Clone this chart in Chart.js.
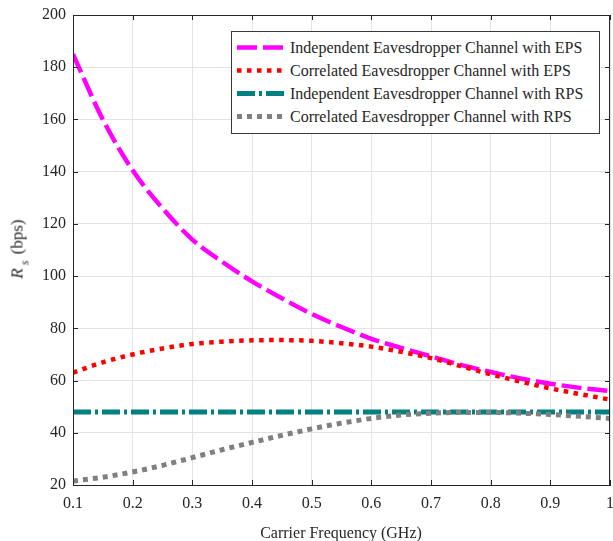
<!DOCTYPE html>
<html>
<head>
<meta charset="utf-8">
<script src="https://cdn.jsdelivr.net/npm/chart.js@4.4.1/dist/chart.umd.min.js"></script>
<style>
  body { margin: 0; background: #fff; }
  #wrap { position: relative; width: 613px; height: 541px; overflow: hidden; font-family: "Liberation Serif", "Times New Roman", serif; color: #262626; }
  #chart { position: absolute; left: 0; top: 0; }
  #ytitle { position: absolute; left: 20px; top: 249px; transform: translate(-50%, -50%) rotate(-90deg); font-size: 17px; white-space: nowrap; }
  #ytitle sub { font-size: 12px; vertical-align: -6px; margin-left: 3px; margin-right: 2px; }
  #xtitle { position: absolute; left: 341px; top: 533px; transform: translate(-50%, -50%); font-size: 16px; white-space: nowrap; }
  #legend { position: absolute; left: 231px; top: 31px; width: 367px; height: 97px; border: 1px solid #3a3a3a; background: #fff; padding-top: 4px; box-sizing: content-box; }
  .row { display: flex; align-items: center; height: 23px; font-size: 16px; white-space: nowrap; }
  .row svg { margin-left: 5px; margin-right: 5px; }
</style>
</head>
<body>
<div id="wrap">
  <canvas id="chart" width="613" height="541"></canvas>
  <div id="ytitle"><i>R</i><sub><i>s</i></sub> (bps)</div>
  <div id="xtitle">Carrier Frequency (GHz)</div>
  <div id="legend"></div>
</div>
<script>
// carrier frequency (GHz)
const freqs = [0.1, 0.15, 0.2, 0.25, 0.3, 0.35, 0.4, 0.45, 0.5, 0.55, 0.6, 0.65, 0.7, 0.75, 0.8, 0.85, 0.9, 0.95, 1.0];

const indepEPS = [185, 160, 140.5, 126, 114, 105.5, 98, 91.5, 85.5, 80.5, 76, 72.5, 69.3, 66, 63.3, 60.8, 58.8, 57.2, 56];
const corrEPS  = [63, 67, 70, 72.3, 74, 74.9, 75.4, 75.5, 75.2, 74.3, 73, 71, 68.6, 65.5, 62.4, 59.6, 57, 54.8, 52.7];
const indepRPS = [48, 48, 48, 48, 48, 48, 48, 48, 48, 48, 48, 48, 48, 48, 48, 48, 48, 48, 48];
const corrRPS  = [21.5, 23, 25, 27.5, 30.5, 33.5, 36.3, 39, 41.5, 43.7, 45.5, 46.8, 47.5, 47.8, 47.8, 47.5, 47, 46.3, 45.5];

const seriesNames = [
    'Independent Eavesdropper Channel with EPS',
    'Correlated Eavesdropper Channel with EPS',
    'Independent Eavesdropper Channel with RPS',
    'Correlated Eavesdropper Channel with RPS'
];

const xTicks = [0.1, 0.2, 0.3, 0.4, 0.5, 0.6, 0.7, 0.8, 0.9, 1];
const yTicks = [20, 40, 60, 80, 100, 120, 140, 160, 180, 200];

const axisColor = '#262626';
const gridColor = '#e3e3e3';

const styles = [
    { color: '#ff00ff', width: 4.5, dash: [20, 6] },
    { color: '#ff0000', width: 4.5, dash: [4.5, 5.5] },
    { color: '#008080', width: 5, dash: [18, 4, 3, 4] },
    { color: '#808080', width: 5, dash: [5, 5] }
];

function toPoints(values) {
    return freqs.map((f, i) => ({ x: f, y: values[i] }));
}

const allSeries = [indepEPS, corrEPS, indepRPS, corrRPS];
const datasets = allSeries.map((vals, i) => ({
    label: seriesNames[i],
    data: toPoints(vals),
    borderColor: styles[i].color,
    borderWidth: styles[i].width,
    borderDash: styles[i].dash,
    borderCapStyle: 'butt',
    pointRadius: 0,
    fill: false,
    cubicInterpolationMode: 'monotone',
    order: 3 - i
}));

// box around the plot + inward tick marks, like MATLAB axes
const boxPlugin = {
    id: 'box',
    afterDraw(chart) {
        const { ctx, chartArea: a, scales } = chart;
        ctx.save();
        ctx.strokeStyle = axisColor;
        ctx.lineWidth = 1;
        ctx.strokeRect(a.left + 0.5, a.top + 0.5, a.right - a.left - 1, a.bottom - a.top);
        ctx.beginPath();
        xTicks.forEach(v => {
            const px = Math.round(scales.x.getPixelForValue(v)) + 0.5;
            ctx.moveTo(px, a.bottom); ctx.lineTo(px, a.bottom - 5);
            ctx.moveTo(px, a.top); ctx.lineTo(px, a.top + 5);
        });
        yTicks.forEach(v => {
            const py = Math.round(scales.y.getPixelForValue(v)) + 0.5;
            ctx.moveTo(a.left, py); ctx.lineTo(a.left + 5, py);
            ctx.moveTo(a.right, py); ctx.lineTo(a.right - 5, py);
        });
        ctx.stroke();
        ctx.restore();
    }
};

const tickFont = { family: '"Liberation Serif", "Times New Roman", serif', size: 16 };

new Chart(document.getElementById('chart'), {
    type: 'line',
    data: { datasets: datasets },
    plugins: [boxPlugin],
    options: {
        responsive: false,
        animation: false,
        layout: { padding: { left: 0, right: 3, top: 15, bottom: 0 } },
        plugins: { legend: { display: false }, tooltip: { enabled: false } },
        scales: {
            x: {
                type: 'linear',
                min: 0.1,
                max: 1,
                afterBuildTicks: s => { s.ticks = xTicks.map(v => ({ value: v })); },
                afterFit: s => { s.height = 56; s.paddingLeft = 0; s.paddingRight = 0; },
                ticks: {
                    color: axisColor,
                    font: tickFont,
                    padding: 9,
                    maxRotation: 0,
                    autoSkip: false,
                    callback: v => String(Math.round(v * 10) / 10)
                },
                grid: { color: gridColor, drawTicks: false },
                border: { color: axisColor }
            },
            y: {
                min: 20,
                max: 200,
                afterBuildTicks: s => { s.ticks = yTicks.map(v => ({ value: v })); },
                afterFit: s => { s.width = 73; s.paddingTop = 0; s.paddingBottom = 0; },
                ticks: {
                    color: axisColor,
                    font: tickFont,
                    padding: 7,
                    autoSkip: false,
                    callback: v => String(v)
                },
                grid: { color: gridColor, drawTicks: false },
                border: { color: axisColor }
            }
        }
    }
});

// legend box drawn as html, samples as small svg lines
const legend = document.getElementById('legend');
seriesNames.forEach((name, i) => {
    const st = styles[i];
    const row = document.createElement('div');
    row.className = 'row';
    row.innerHTML = `<svg width="48" height="23"><line x1="0" y1="11.5" x2="48" y2="11.5" stroke="${st.color}" stroke-width="${st.width}" stroke-dasharray="${st.dash.join(',')}"/></svg><span>${name}</span>`;
    legend.appendChild(row);
});
</script>
</body>
</html>
